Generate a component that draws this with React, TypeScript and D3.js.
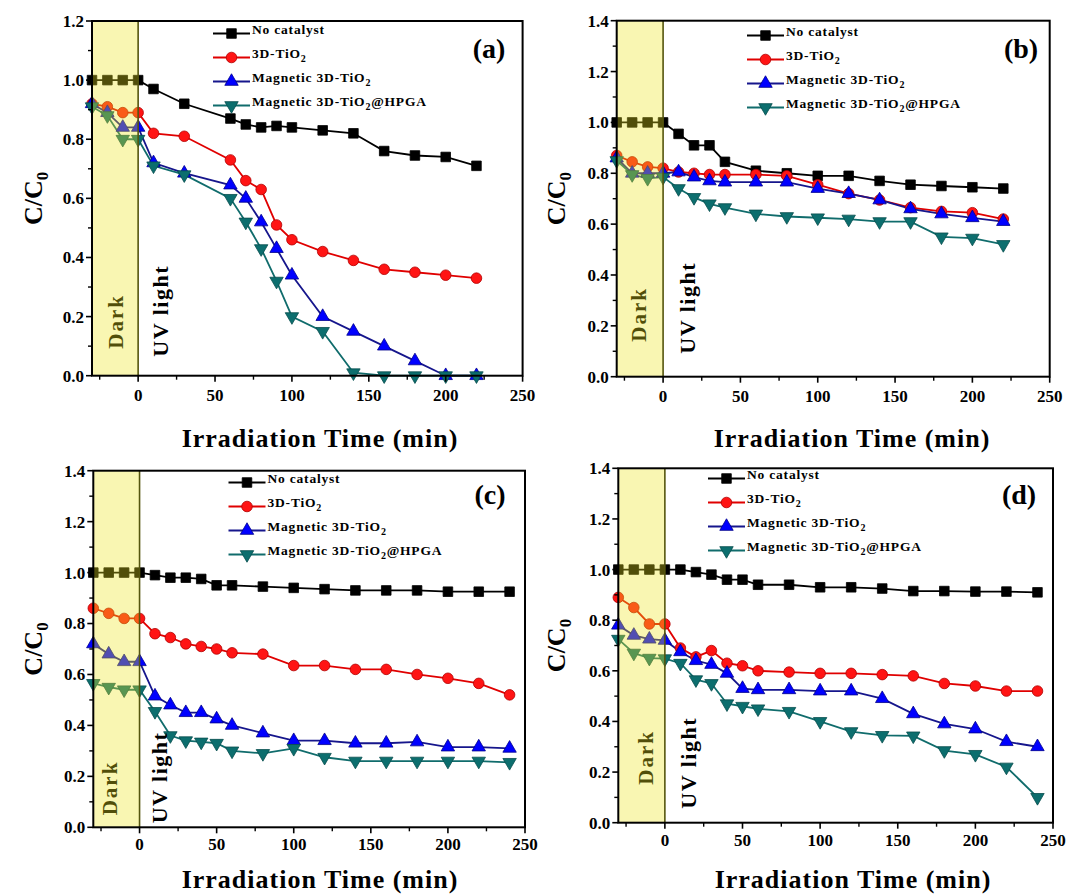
import React from 'react';
import * as d3 from 'd3';

// ---------- data ----------
const timesA = [-30, -20, -10, 0, 10, 30, 60, 70, 80, 90, 100, 120, 140, 160, 180, 200, 220];
const aNoCat = [1, 1, 1, 1, 0.97, 0.92, 0.87, 0.85, 0.84, 0.845, 0.84, 0.83, 0.82, 0.76, 0.745, 0.74, 0.71];
const aTiO2 = [0.92, 0.91, 0.89, 0.89, 0.82, 0.81, 0.73, 0.66, 0.63, 0.51, 0.46, 0.42, 0.39, 0.36, 0.35, 0.34, 0.33];
const aMag = [0.92, 0.89, 0.84, 0.84, 0.72, 0.685, 0.645, 0.6, 0.52, 0.43, 0.34, 0.2, 0.15, 0.1, 0.05, 0.0, 0.0];
const aHPGA = [0.91, 0.88, 0.8, 0.8, 0.71, 0.68, 0.6, 0.52, 0.43, 0.32, 0.2, 0.15, 0.01, 0.0, 0.0, 0.0, 0.0];

const timesB = [-30, -20, -10, 0, 10, 20, 30, 40, 60, 80, 100, 120, 140, 160, 180, 200, 220];
const bNoCat = [1, 1, 1, 1, 0.955, 0.91, 0.91, 0.845, 0.81, 0.8, 0.79, 0.79, 0.77, 0.755, 0.75, 0.745, 0.74];
const bTiO2 = [0.87, 0.845, 0.825, 0.82, 0.805, 0.8, 0.795, 0.795, 0.795, 0.79, 0.755, 0.72, 0.695, 0.665, 0.65, 0.645, 0.62];
const bMag = [0.86, 0.8, 0.8, 0.8, 0.805, 0.785, 0.77, 0.765, 0.765, 0.765, 0.74, 0.72, 0.695, 0.66, 0.64, 0.625, 0.61];
const bHPGA = [0.85, 0.795, 0.78, 0.785, 0.74, 0.705, 0.68, 0.665, 0.64, 0.63, 0.625, 0.62, 0.61, 0.61, 0.55, 0.545, 0.52];

const timesCD = [-30, -20, -10, 0, 10, 20, 30, 40, 50, 60, 80, 100, 120, 140, 160, 180, 200, 220, 240];
const cNoCat = [1, 1, 1, 1, 0.99, 0.98, 0.98, 0.975, 0.95, 0.95, 0.945, 0.94, 0.935, 0.93, 0.93, 0.93, 0.925, 0.925, 0.925];
const cTiO2 = [0.86, 0.84, 0.82, 0.82, 0.76, 0.745, 0.72, 0.71, 0.7, 0.685, 0.68, 0.635, 0.635, 0.62, 0.62, 0.6, 0.585, 0.565, 0.52];
const cMag = [0.72, 0.68, 0.65, 0.65, 0.515, 0.48, 0.45, 0.45, 0.425, 0.4, 0.37, 0.34, 0.34, 0.33, 0.33, 0.335, 0.315, 0.315, 0.31];
const cHPGA = [0.565, 0.55, 0.54, 0.54, 0.455, 0.36, 0.34, 0.335, 0.33, 0.3, 0.29, 0.31, 0.275, 0.26, 0.26, 0.26, 0.26, 0.26, 0.255];

const dNoCat = [1, 1, 1, 1, 1.0, 0.99, 0.98, 0.96, 0.96, 0.94, 0.94, 0.93, 0.93, 0.925, 0.915, 0.915, 0.913, 0.913, 0.91];
const dTiO2 = [0.89, 0.85, 0.785, 0.785, 0.69, 0.655, 0.68, 0.63, 0.62, 0.6, 0.595, 0.59, 0.59, 0.585, 0.58, 0.55, 0.54, 0.52, 0.52];
const dMag = [0.78, 0.74, 0.725, 0.72, 0.675, 0.64, 0.625, 0.59, 0.53, 0.525, 0.525, 0.52, 0.52, 0.49, 0.43, 0.39, 0.37, 0.32, 0.3];
const dHPGA = [0.725, 0.67, 0.65, 0.648, 0.63, 0.565, 0.55, 0.47, 0.46, 0.45, 0.44, 0.4, 0.36, 0.345, 0.343, 0.285, 0.27, 0.22, 0.1];

const seriesNames = ['No catalyst', '3D-TiO_2', 'Magnetic 3D-TiO_2', 'Magnetic 3D-TiO_2@HPGA'];
const xTickValues = [0, 50, 100, 150, 200, 250];
const xMinorValues = [-25, 25, 75, 125, 175, 225];
const xDomain = [-30, 250];
const panelLabels = ['(a)', '(b)', '(c)', '(d)'];
const xTitle = 'Irradiation Time (min)';

// ---------- styles / layout ----------
const FONT = '"Liberation Serif", "Times New Roman", serif';
const STYLES = [
  { line: '#000000', fill: '#000000', stroke: '#000000', shape: 'square' },
  { line: '#e00000', fill: '#ff1414', stroke: '#b00000', shape: 'circle' },
  { line: '#16168c', fill: '#0000ff', stroke: '#00008c', shape: 'triangle' },
  { line: '#106c6c', fill: '#0c6e6e', stroke: '#074e4e', shape: 'down' },
];

const PANELS = [
  {
    times: timesA, series: [aNoCat, aTiO2, aMag, aHPGA], ymax: 1.2,
    box: { l: 92, r: 522.6, t: 21, b: 375.7 },
    legend: { x: 213, y: 33.5 }, label: { x: 489, y: 58 },
    dark: { dx: -15, up: 27 }, uv: { dx: 30, up: 19 },
    yTitleX: 42, tickY: 401, titleY: 447, titleX: 320,
  },
  {
    times: timesB, series: [bNoCat, bTiO2, bMag, bHPGA], ymax: 1.4,
    box: { l: 616.7, r: 1049.7, t: 20.7, b: 376.7 },
    legend: { x: 747, y: 35.5 }, label: { x: 1021, y: 58 },
    dark: { dx: -17, up: 35 }, uv: { dx: 32, up: 23 },
    yTitleX: 565, tickY: 402, titleY: 447, titleX: 852,
  },
  {
    times: timesCD, series: [cNoCat, cTiO2, cMag, cHPGA], ymax: 1.4,
    box: { l: 93.3, r: 525, t: 470.7, b: 827.3 },
    legend: { x: 228.5, y: 482.5 }, label: { x: 490, y: 504 },
    dark: { dx: -23, up: 12 }, uv: { dx: 27, up: 4 },
    yTitleX: 42, tickY: 850, titleY: 888, titleX: 320,
  },
  {
    times: timesCD, series: [dNoCat, dTiO2, dMag, dHPGA], ymax: 1.4,
    box: { l: 618.3, r: 1053, t: 468.3, b: 822.7 },
    legend: { x: 708, y: 478.5 }, label: { x: 1019, y: 504 },
    dark: { dx: -12, up: 38 }, uv: { dx: 31, up: 14 },
    yTitleX: 565, tickY: 846, titleY: 888, titleX: 853,
  },
];

function symbolPath(shape: string) {
  if (shape === 'square') return d3.symbol().type(d3.symbolSquare).size(92)() as string;
  if (shape === 'circle') return d3.symbol().type(d3.symbolCircle).size(88)() as string;
  return d3.symbol().type(d3.symbolTriangle).size(78)() as string;
}

function Marker({ shape, x, y, st }: any) {
  const tr = shape === 'down' ? `translate(${x},${y}) rotate(180)` : `translate(${x},${y})`;
  return <path d={symbolPath(shape)} transform={tr} fill={st.fill} stroke={st.stroke} strokeWidth={0.8} />;
}

function RichLabel({ text, subSize, dy }: any) {
  const parts = text.split(/_(\d)/);
  const out: any[] = [];
  let shifted = false;
  parts.forEach((p: string, i: number) => {
    if (i % 2 === 1) {
      out.push(<tspan key={i} dy={dy} fontSize={subSize}>{p}</tspan>);
      shifted = true;
    } else if (p.length) {
      out.push(<tspan key={i} dy={shifted ? -dy : 0}>{p}</tspan>);
      shifted = false;
    }
  });
  return <>{out}</>;
}

function Panel({ cfg, idx }: any) {
  const { box, ymax, times, series } = cfg;
  const x = d3.scaleLinear().domain(xDomain).range([box.l, box.r]);
  const y = d3.scaleLinear().domain([0, ymax]).range([box.b, box.t]);
  const line = d3.line<number>().x((_, i) => x(times[i])).y((d) => y(d));
  const yMajor = d3.range(0, ymax + 0.001, 0.2);
  const yMinor = d3.range(0.1, ymax, 0.2);
  const x0 = x(0);
  const boldText = { fontFamily: FONT, fontWeight: 'bold' as const };
  return (
    <g>
      {/* Dark text (under overlay) */}
      <text
        transform={`translate(${x0 + cfg.dark.dx},${box.b - cfg.dark.up}) rotate(-90)`}
        {...boldText} fontSize={21} letterSpacing={2} fill="#000">Dark</text>
      {/* data lines */}
      {series.map((vals: number[], si: number) => (
        <path key={'l' + si} d={line(vals) as string} fill="none" stroke={STYLES[si].line} strokeWidth={1.8} />
      ))}
      {series.map((vals: number[], si: number) => (
        <g key={'m' + si}>
          {vals.map((v, i) => (
            <Marker key={i} shape={STYLES[si].shape} x={x(times[i])} y={y(v)} st={STYLES[si]} />
          ))}
        </g>
      ))}
      {/* dark region overlay */}
      <rect x={box.l} y={box.t} width={x0 - box.l} height={box.b - box.t}
        fill="rgb(238,228,30)" fillOpacity={0.34} />
      <line x1={x0} x2={x0} y1={box.t} y2={box.b} stroke="#55550e" strokeWidth={1.6} />
      {/* UV light */}
      <text
        transform={`translate(${x0 + cfg.uv.dx},${box.b - cfg.uv.up}) rotate(-90)`}
        {...boldText} fontSize={22} letterSpacing={1.5} fill="#000">UV light</text>
      {/* frame */}
      <rect x={box.l} y={box.t} width={box.r - box.l} height={box.b - box.t} fill="none" stroke="#000" strokeWidth={2} />
      {/* y ticks */}
      {yMajor.map((v: number) => (
        <g key={'ym' + v}>
          <line x1={box.l - 6} x2={box.l} y1={y(v)} y2={y(v)} stroke="#000" strokeWidth={1.6} />
          <text x={box.l - 8} y={y(v)} dy="0.35em" textAnchor="end" {...boldText} fontSize={17}>{v.toFixed(1)}</text>
        </g>
      ))}
      {yMinor.map((v: number) => (
        <line key={'yn' + v} x1={box.l - 4} x2={box.l} y1={y(v)} y2={y(v)} stroke="#000" strokeWidth={1.4} />
      ))}
      {/* x ticks */}
      {xTickValues.map((v) => (
        <g key={'xm' + v}>
          <line x1={x(v)} x2={x(v)} y1={box.b} y2={box.b + 6} stroke="#000" strokeWidth={1.6} />
          <text x={x(v)} y={cfg.tickY} textAnchor="middle" {...boldText} fontSize={17}>{v}</text>
        </g>
      ))}
      {xMinorValues.map((v) => (
        <line key={'xn' + v} x1={x(v)} x2={x(v)} y1={box.b} y2={box.b + 4} stroke="#000" strokeWidth={1.4} />
      ))}
      {/* axis titles */}
      <text x={cfg.titleX} y={cfg.titleY} textAnchor="middle" {...boldText} fontSize={26} letterSpacing={1}>{xTitle}</text>
      <text transform={`translate(${cfg.yTitleX},${(box.t + box.b) / 2}) rotate(-90)`} textAnchor="middle"
        {...boldText} fontSize={26}>C/C<tspan dy={6} fontSize={17}>0</tspan></text>
      {/* legend */}
      {seriesNames.map((name, si) => {
        const ly = cfg.legend.y + si * 24;
        const lx = cfg.legend.x;
        return (
          <g key={'lg' + si}>
            <line x1={lx} x2={lx + 37} y1={ly} y2={ly} stroke={STYLES[si].line} strokeWidth={1.8} />
            <Marker shape={STYLES[si].shape} x={lx + 18.5} y={ly} st={STYLES[si]} />
            <text x={lx + 39} y={ly} dy="0.33em" {...boldText} fontSize={13.5} letterSpacing={0.8}>
              <RichLabel text={name} subSize={10} dy={4} />
            </text>
          </g>
        );
      })}
      {/* panel label */}
      <text x={cfg.label.x} y={cfg.label.y} textAnchor="middle" {...boldText} fontSize={28}>{panelLabels[idx]}</text>
    </g>
  );
}

export default function App() {
  return (
    <svg width={1067} height={894} viewBox="0 0 1067 894"
      style={{ position: 'absolute', left: 0, top: 0, background: '#fff', display: 'block' }}>
      <rect x={0} y={0} width={1067} height={894} fill="#fff" />
      {PANELS.map((cfg, i) => (
        <Panel key={i} cfg={cfg} idx={i} />
      ))}
    </svg>
  );
}
